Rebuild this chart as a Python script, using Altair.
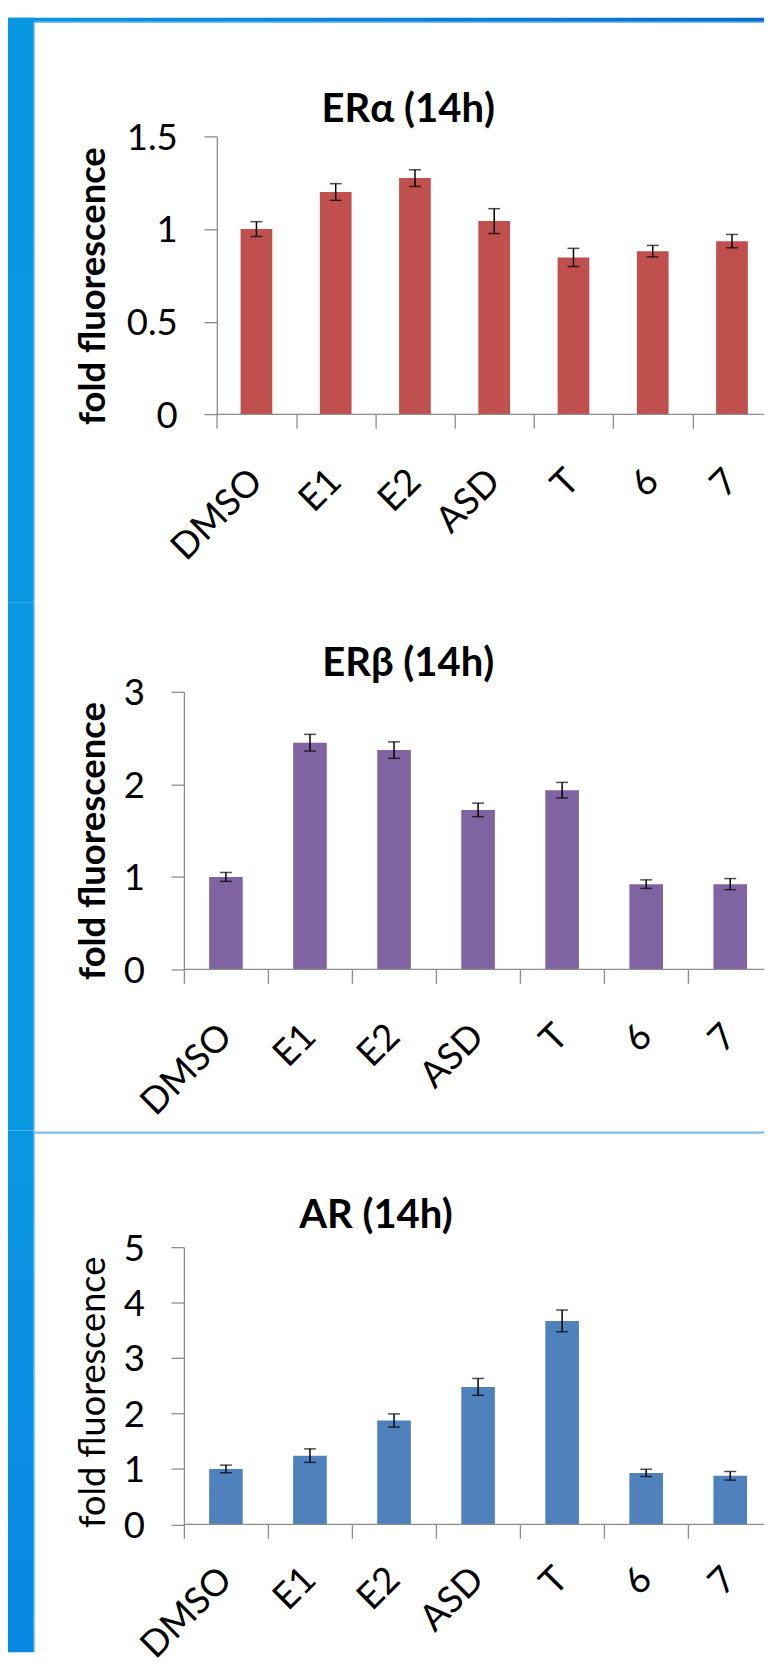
import altair as alt
import pandas as pd

# ---------------- data ----------------
categories = ["DMSO", "E1", "E2", "ASD", "T", "6", "7"]

era_values = [1.00, 1.20, 1.275, 1.043, 0.847, 0.881, 0.935]
era_errors = [0.040, 0.045, 0.045, 0.067, 0.049, 0.031, 0.036]

erb_values = [1.00, 2.45, 2.37, 1.724, 1.937, 0.922, 0.922]
erb_errors = [0.048, 0.090, 0.089, 0.073, 0.084, 0.046, 0.060]

ar_values = [1.00, 1.24, 1.874, 2.48, 3.67, 0.929, 0.876]
ar_errors = [0.069, 0.122, 0.119, 0.152, 0.196, 0.065, 0.078]

panel_titles = ["ERα (14h)", "ERβ (14h)", "AR (14h)"]
y_title = "fold fluorescence"
y_ticks = [[0, 0.5, 1, 1.5], [0, 1, 2, 3], [0, 1, 2, 3, 4, 5]]
bar_colors = ["#C0504D", "#8064A2", "#4F81BD"]

FONT = "Lato"
AXIS_GRAY = "#8c8c8c"
M = 8                    # page margin
ORIGIN_X = 186           # common page x of every panel's plot origin
PAGE_W = 773
PLOT_W = PAGE_W - ORIGIN_X   # plot width up to the right page edge

cat_list = "[" + ",".join("'" + c + "'" for c in categories) + "]"


def grad(stops, horizontal=False):
    n = len(stops)
    return alt.LinearGradient(
        gradient="linear",
        stops=[alt.GradientStop(offset=i / (n - 1), color=c) for i, c in enumerate(stops)],
        x1=0, y1=0, x2=1 if horizontal else 0, y2=0 if horizontal else 1,
    )


def deco(x0, x1, y0, y1, fill):
    return alt.Chart(pd.DataFrame({"k": [0]})).mark_rect(color=fill, strokeWidth=0).encode(
        x=alt.value(x0), x2=alt.value(x1), y=alt.value(y0), y2=alt.value(y1)
    )


def text_at(txt, x, y, size, weight, angle=0):
    return alt.Chart(pd.DataFrame({"t": [txt]})).mark_text(
        font=FONT, fontSize=size, fontWeight=weight, align="center",
        baseline="alphabetic", color="black", angle=angle,
    ).encode(x=alt.value(x), y=alt.value(y), text="t:N")


def panel(values, errors, color, ticks, title, lay):
    pt, step, ph, x0px = lay["top"], lay["step"], lay["h"], lay["x0px"]
    ox = ORIGIN_X
    ymax = ticks[-1]
    dmin = -x0px / step
    dmax = (PLOT_W - x0px) / step
    df = pd.DataFrame({"cat": categories, "idx": list(range(len(categories))),
                       "value": values, "err": errors})

    x_scale = alt.Scale(domain=[dmin, dmax], nice=False, zero=False)
    x_axis = alt.Axis(
        title=None, domain=False,
        values=[i * 0.5 for i in range(2 * len(categories))],
        labelExpr="datum.value % 1 === 0 ? '' : " + cat_list + "[floor(datum.value)]",
        tickOpacity={"condition": {"test": "datum.value % 1 === 0", "value": 1}, "value": 0},
        labelAngle=-45, labelAlign="right", labelBaseline="top", labelFontSize=37,
        labelPadding=lay["lpad"], labelOffset=lay["loff"], tickSize=14,
        labelOverlap=False, labelBound=False, labelFlush=False, grid=False,
    )
    y_axis = alt.Axis(
        values=ticks, format="~g", tickSize=13, labelPadding=27, labelFontSize=37,
        labelOffset=2, title=None, offset=-x0px,
    )
    y_scale = alt.Scale(domain=[0, ymax], nice=False, zero=True)

    base = alt.Chart(df).transform_calculate(
        lo="datum.value - datum.err", hi="datum.value + datum.err",
        xa="datum.idx + 0.3", xb="datum.idx + 0.7", xm="datum.idx + 0.5",
    )
    bars = base.mark_rect(color=color).encode(
        x=alt.X("xa:Q", scale=x_scale, axis=x_axis), x2="xb:Q",
        y=alt.Y("value:Q", scale=y_scale, axis=y_axis), y2=alt.Y2(datum=0),
    )
    baseline = alt.Chart(pd.DataFrame({"k": [0]})).mark_rule(
        color=AXIS_GRAY, strokeWidth=1.3
    ).encode(
        x=alt.X(datum=0, type="quantitative", scale=x_scale, axis=x_axis),
        x2=alt.X2(datum=dmax),
        y=alt.Y(datum=0, type="quantitative", scale=y_scale, axis=y_axis),
    )
    rule = base.mark_rule(color="black", strokeWidth=1.5).encode(
        x=alt.X("xm:Q", scale=x_scale, axis=x_axis),
        y=alt.Y("lo:Q", scale=y_scale, axis=y_axis), y2="hi:Q",
    )
    caps = [
        base.mark_tick(color="black", size=12, thickness=1.5, orient="horizontal").encode(
            x=alt.X("xm:Q", scale=x_scale, axis=x_axis),
            y=alt.Y(f + ":Q", scale=y_scale, axis=y_axis),
        )
        for f in ("lo", "hi")
    ]

    layers = [
        deco(M - ox, 34 - ox, lay["rtop"] - pt, lay["rbot"] - pt, grad(lay["strip"])),
        deco(34 - ox, 35 - ox, lay["rtop"] - pt, lay["rbot"] - pt, "#45b3ee"),
    ]
    if lay.get("topstrip"):
        layers.append(deco(M - ox, PLOT_W, M - pt, 12 - pt,
                           grad(["#0a97e0", "#0784d8", "#056ecf"], horizontal=True)))
        layers.append(deco(35 - ox, PLOT_W, 12 - pt, 13 - pt, "#4aa8ea"))
    else:
        # white full-width rect (right of the strip) so every panel spans the page width
        layers.append(deco(35 - ox, PLOT_W, lay["rtop"] - pt, lay["rtop"] - pt + 1, "white"))
    if lay.get("separator"):
        layers.append(deco(35 - ox, PLOT_W, 1135 - pt, 1137.3 - pt, "#7cbfee"))
    layers += [
        bars, baseline, rule, *caps,
        text_at(title, lay["tcx"] - ox, lay["tby"] - pt, lay["tfs"], "bold"),
        text_at(y_title, lay["ytx"] - ox, lay["yty"] - pt, lay["ytfs"], lay["ytw"], angle=270),
    ]
    return alt.layer(*layers).properties(width=PLOT_W, height=ph)


lay1 = dict(top=128, h=281.4, step=80.2, x0px=33.3, rtop=M, rbot=600,
            tcx=413, tby=113.6, tfs=40.5, ytx=106, yty=279.5, ytfs=36.8, ytw="bold",
            lpad=35, loff=-13, strip=["#0996e0", "#0a97e1"], topstrip=True)
lay2 = dict(top=690, h=281.0, step=85.05, x0px=0, rtop=600, rbot=1134,
            tcx=413, tby=674.3, tfs=40.5, ytx=106, yty=841, ytfs=36.8, ytw="bold",
            lpad=35, loff=-13, strip=["#0a97e1", "#0a97e2"])
lay3 = dict(top=1252, h=280.5, step=85.05, x0px=0, rtop=1134, rbot=1662,
            tcx=380.3, tby=1233, tfs=40.5, ytx=106, yty=1399, ytfs=36.5, ytw="normal",
            lpad=23, loff=-13, strip=["#0a97e2", "#0888e2"], separator=True)

p1 = panel(era_values, era_errors, bar_colors[0], y_ticks[0], panel_titles[0], lay1)
p2 = panel(erb_values, erb_errors, bar_colors[1], y_ticks[1], panel_titles[1], lay2)
p3 = panel(ar_values, ar_errors, bar_colors[2], y_ticks[2], panel_titles[2], lay3)

chart = (
    alt.vconcat(p1, p2, p3, spacing=0)
    .properties(padding=0, background="white")
    .configure_view(stroke=None)
    .configure_axis(
        grid=False, labelFont=FONT, titleFont=FONT, labelColor="black", titleColor="black",
        domainColor=AXIS_GRAY, tickColor=AXIS_GRAY, domainWidth=1.3, tickWidth=1.3,
    )
)

chart.save("out.html", embed_options={"renderer": "svg", "actions": False})
